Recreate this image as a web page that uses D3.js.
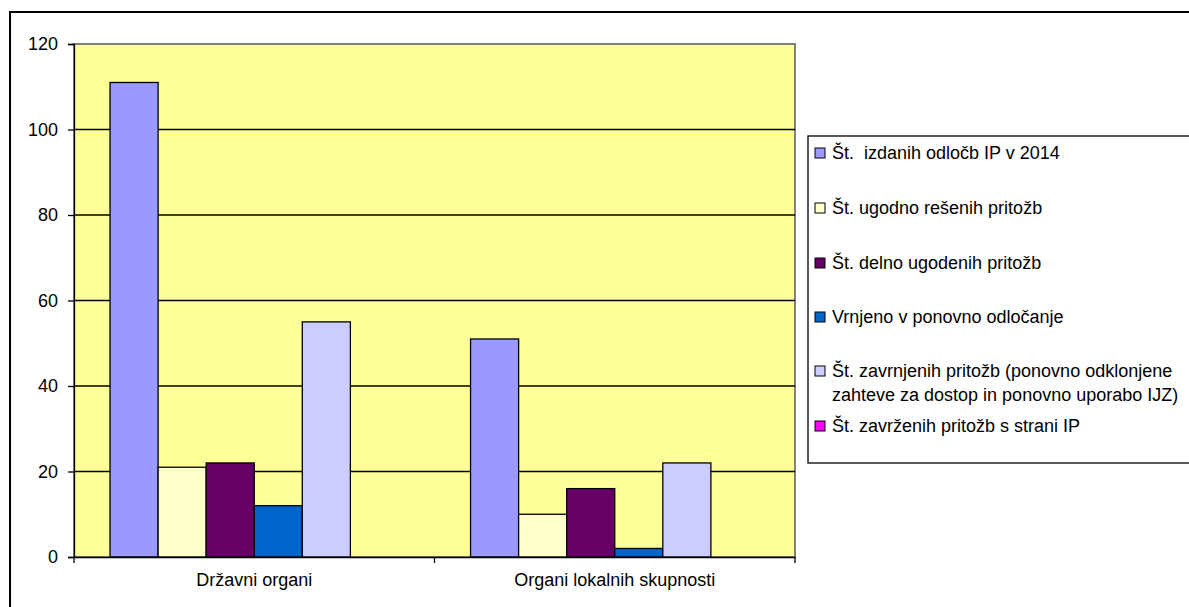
<!DOCTYPE html>
<html>
<head>
<meta charset="utf-8">
<script src="https://cdn.jsdelivr.net/npm/d3@7"></script>
<style>
  body { margin: 0; background: #fff; }
  svg { display: block; font-family: "Liberation Sans", Arial, sans-serif; }
</style>
</head>
<body>
<svg width="1189" height="607"></svg>
<script>
// Chart data
const categories = ["Državni organi", "Organi lokalnih skupnosti"];
const seriesNames = [
    "Št.  izdanih odločb IP v 2014",
    "Št. ugodno rešenih pritožb",
    "Št. delno ugodenih pritožb",
    "Vrnjeno v ponovno odločanje",
    "Št. zavrnjenih pritožb (ponovno odklonjene\nzahteve za dostop in ponovno uporabo IJZ)",
    "Št. zavrženih pritožb s strani IP"
];
const seriesValues = [
    [111, 51],
    [21, 10],
    [22, 16],
    [12, 2],
    [55, 22],
    [0, 0]
];
const seriesColors = ["#9999FF", "#FFFFCC", "#660066", "#0066CC", "#CCCCFF", "#FF00FF"];
const yTicks = [0, 20, 40, 60, 80, 100, 120];

const fontSize = 18;
const svg = d3.select("svg");

// Outer chart border
svg.append("rect")
    .attr("x", 10).attr("y", 12)
    .attr("width", 1200).attr("height", 610)
    .attr("fill", "none")
    .attr("stroke", "#000")
    .attr("stroke-width", 2);

const plot = { left: 74, right: 795, top: 44, bottom: 557 };

const x0 = d3.scaleBand()
    .domain(categories)
    .range([plot.left, plot.right]);

// gap width ~150% of a bar
const x1 = d3.scaleBand()
    .domain(d3.range(seriesNames.length))
    .range([0, x0.bandwidth()])
    .paddingOuter(0.75);

const y = d3.scaleLinear()
    .domain([0, 120])
    .range([plot.bottom, plot.top]);

// Plot background
svg.append("rect")
    .attr("x", plot.left).attr("y", plot.top)
    .attr("width", plot.right - plot.left)
    .attr("height", plot.bottom - plot.top)
    .attr("fill", "#FFFF99")
    .attr("stroke", "#808080")
    .attr("stroke-width", 2);

// Gridlines
svg.append("g")
    .selectAll("line")
    .data(yTicks.filter(d => d > 0 && d < 120))
    .join("line")
    .attr("x1", plot.left).attr("x2", plot.right)
    .attr("y1", d => y(d)).attr("y2", d => y(d))
    .attr("stroke", "#000")
    .attr("stroke-width", 1.3);

// Bars
const groups = svg.append("g")
    .selectAll("g")
    .data(seriesValues)
    .join("g")
    .attr("fill", (d, i) => seriesColors[i]);

groups.selectAll("rect")
    .data((vals, i) => vals.map((v, j) => ({ s: i, cat: categories[j], v })))
    .join("rect")
    .filter(d => d.v > 0)
    .attr("x", d => x0(d.cat) + x1(d.s))
    .attr("width", x1.bandwidth())
    .attr("y", d => y(d.v))
    .attr("height", d => y(0) - y(d.v))
    .attr("stroke", "#000")
    .attr("stroke-width", 1.3);

// Y axis
const yAxis = svg.append("g")
    .attr("transform", `translate(${plot.left},0)`)
    .call(d3.axisLeft(y).tickValues(yTicks).tickSize(6).tickPadding(10));
yAxis.select(".domain").attr("stroke", "#000").attr("stroke-width", 1.3);
yAxis.selectAll(".tick line").attr("stroke", "#000").attr("stroke-width", 1.3);
yAxis.selectAll("text").attr("font-size", fontSize).attr("fill", "#000")
    .attr("font-family", "Liberation Sans, Arial, sans-serif");

// X axis
const xAxis = svg.append("g")
    .attr("transform", `translate(0,${plot.bottom})`)
    .call(d3.axisBottom(x0).tickSize(0).tickPadding(16));
xAxis.select(".domain").attr("stroke", "#000").attr("stroke-width", 1.3);
xAxis.selectAll("text").attr("font-size", fontSize).attr("fill", "#000")
    .attr("font-family", "Liberation Sans, Arial, sans-serif");

// category separator ticks
svg.append("g")
    .selectAll("line")
    .data([plot.left, ...categories.map(c => x0(c) + x0.bandwidth())])
    .join("line")
    .attr("x1", d => d).attr("x2", d => d)
    .attr("y1", plot.bottom).attr("y2", plot.bottom + 6)
    .attr("stroke", "#000")
    .attr("stroke-width", 1.3);

// Legend
const legend = svg.append("g");
legend.append("rect")
    .attr("x", 808).attr("y", 136)
    .attr("width", 420).attr("height", 327)
    .attr("fill", "#fff")
    .attr("stroke", "#000")
    .attr("stroke-width", 1.3);

const legendY = [153, 208, 263, 317, 371, 426];
const items = legend.selectAll("g.item")
    .data(seriesNames)
    .join("g")
    .attr("class", "item")
    .attr("transform", (d, i) => `translate(815,${legendY[i]})`);

items.append("rect")
    .attr("x", 0).attr("y", -5)
    .attr("width", 10).attr("height", 10)
    .attr("fill", (d, i) => seriesColors[i])
    .attr("stroke", "#000")
    .attr("stroke-width", 1);

items.append("text")
    .attr("x", 17)
    .attr("font-size", fontSize)
    .attr("fill", "#000")
    .selectAll("tspan")
    .data(d => d.split("\n"))
    .join("tspan")
    .attr("x", 17)
    .attr("dy", (d, i) => i === 0 ? "0.35em" : "1.33em")
    .style("white-space", "pre")
    .text(d => d);
</script>
</body>
</html>
